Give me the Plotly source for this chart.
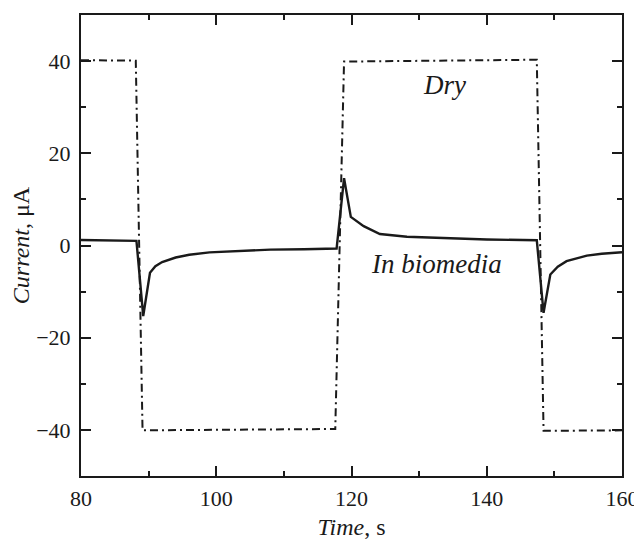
import plotly.graph_objects as go

dry_x = [80, 88.1, 89.1, 117.6, 118.9, 147.4, 148.4, 160]
dry_y = [40.2, 40.1, -40.1, -39.8, 39.9, 40.3, -40.2, -40.1]

bio_x = [80, 88.2, 89.2, 90.2, 91, 92, 94, 96, 99, 103, 108, 113, 117.8,
         118.9, 119.9, 121.8, 124.2, 128.2, 133, 140, 147.4,
         148.4, 149.4, 150.5, 151.8, 154.8, 157, 160]
bio_y = [1.2, 1.0, -15.3, -5.9, -4.5, -3.6, -2.6, -2.0, -1.5, -1.2, -0.9, -0.8, -0.65,
         14.6, 6.2, 4.2, 2.5, 1.9, 1.6, 1.3, 1.15,
         -14.6, -6.3, -4.6, -3.4, -2.2, -1.8, -1.45]

FONT = "Liberation Serif"
INK = "#1a1a1a"

fig = go.Figure()
fig.add_trace(go.Scatter(x=dry_x, y=dry_y, mode="lines",
                         line=dict(color=INK, width=2, dash="8px,4px,2px,4px"),
                         showlegend=False))
fig.add_trace(go.Scatter(x=bio_x, y=bio_y, mode="lines",
                         line=dict(color=INK, width=2.4),
                         showlegend=False))

fig.add_annotation(x=133.7, y=34.8, text="<i>Dry</i>", showarrow=False,
                   font=dict(family=FONT, size=27, color=INK))
fig.add_annotation(x=132.5, y=-4.0, text="<i>In biomedia</i>", showarrow=False,
                   font=dict(family=FONT, size=27, color=INK))

axis_common = dict(showgrid=False, zeroline=False, showline=True, linecolor=INK,
                   linewidth=2, mirror="ticks", ticks="inside", ticklen=10, tickwidth=1.5,
                   tickcolor=INK, automargin=False,
                   tickfont=dict(family=FONT, size=22, color=INK),
                   minor=dict(dtick=10, ticks="inside", ticklen=5, tickwidth=1.5, tickcolor=INK))

fig.update_xaxes(range=[80, 160], tick0=80, dtick=20, ticklabelstandoff=2,
                 title=dict(text="<i>Time</i>, s", font=dict(family=FONT, size=24, color=INK),
                            standoff=12),
                 **axis_common)
fig.update_yaxes(range=[-50, 50], tick0=0, dtick=20, ticklabelstandoff=4,
                 title=dict(text="<i>Current</i>, μA", font=dict(family=FONT, size=24, color=INK),
                            standoff=17),
                 **axis_common)

# page body has an 8px default margin, so the figure is offset by 8px
fig.update_layout(width=634, height=532, margin=dict(l=73, r=20, t=7, b=64),
                  plot_bgcolor="white", paper_bgcolor="white",
                  font=dict(family=FONT, color=INK))

fig.write_html("out.html")
